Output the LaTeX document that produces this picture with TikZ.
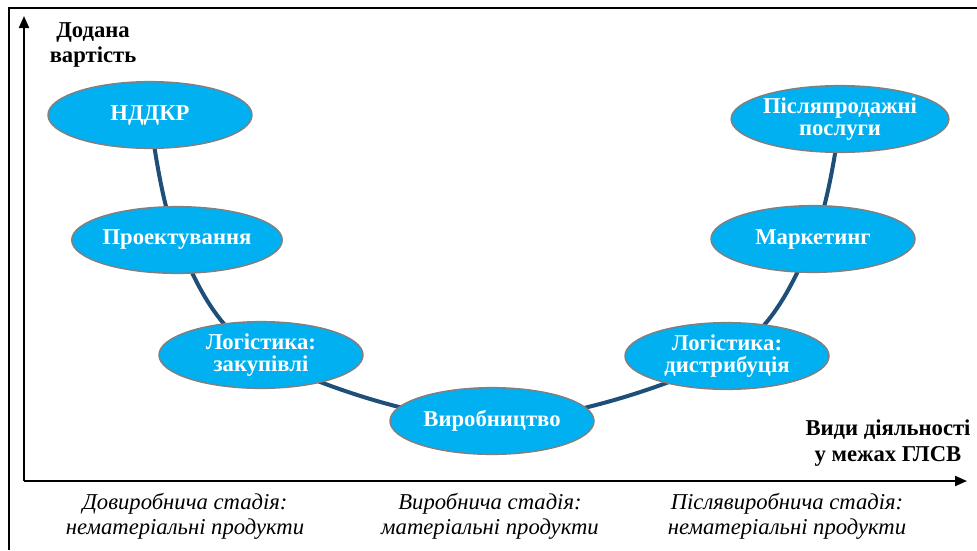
\documentclass[tikz,border=0pt]{standalone}
\usepackage{fontspec}
\setmainfont{Liberation Serif}
\usetikzlibrary{shapes.geometric,arrows.meta,backgrounds}
\definecolor{stagefill}{HTML}{00B0F0}
\definecolor{stageedge}{HTML}{808080}
\definecolor{curvecol}{HTML}{1F4E79}
\tikzset{
  stagebox/.style={ellipse, draw=stageedge, line width=1.1pt, fill=stagefill,
    minimum width=153pt, minimum height=50pt, inner sep=0pt,
    text=white, font=\fontsize{17}{17}\selectfont\bfseries, align=center},
  axislabel/.style={font=\fontsize{17}{19}\selectfont\bfseries, align=center, inner sep=0pt},
  stagetext/.style={font=\fontsize{17}{19}\selectfont\itshape, align=center, inner sep=0pt},
  axisline/.style={line width=1.5pt, -{Triangle[length=9pt,width=7.5pt]}},
  vcurve/.style={draw=curvecol, line width=3pt},
  framel/.style={line width=1.1pt}
}
\begin{document}
\begin{tikzpicture}[x=0.75pt,y=-0.75pt]
\useasboundingbox (0,0) rectangle (977,550);
% frame (top and left edges)
\coordinate (fa) at (9,550);
\coordinate (fb) at (9,8);
\coordinate (fc) at (977,8);
\draw[framel] (fa) -- (fb) -- (fc);
% axes
\coordinate (o) at (24,481);
\coordinate (ytop) at (24,16);
\coordinate (xend) at (967,481);
\draw[axisline] (o) -- (ytop);
\draw[axisline] (o) -- (xend);
% axis labels
\node[axislabel] (ylab) at (93,45) {Додана\\вартість};
\node[axislabel] (xlab) at (888,443) {Види діяльності\\у межах ГЛСВ};
% stages
\node[stagebox] (n1) at (150,115) {НДДКР};
\node[stagebox] (n2) at (177,240) {Проектування};
\node[stagebox] (n3) at (261,355) {Логістика:\\закупівлі};
\node[stagebox] (n4) at (492,421) {Виробництво};
\node[stagebox] (n5) at (727,356) {Логістика:\\дистрибуція};
\node[stagebox] (n6) at (813,239) {Маркетинг};
\node[stagebox] (n7) at (840,119) {Післяпродажні\\послуги};
\begin{scope}[on background layer]
\draw[vcurve] plot[smooth, tension=0.55] coordinates {(n1) (n2) (n3) (n4) (n5) (n6) (n7)};
\end{scope}
% stage captions
\node[stagetext] (s1) at (185,516) {Довиробнича стадія:\\нематеріальні продукти};
\node[stagetext] (s2) at (490,516) {Виробнича стадія:\\матеріальні продукти};
\node[stagetext] (s3) at (787,516) {Післявиробнича стадія:\\нематеріальні продукти};
\end{tikzpicture}
\end{document}
